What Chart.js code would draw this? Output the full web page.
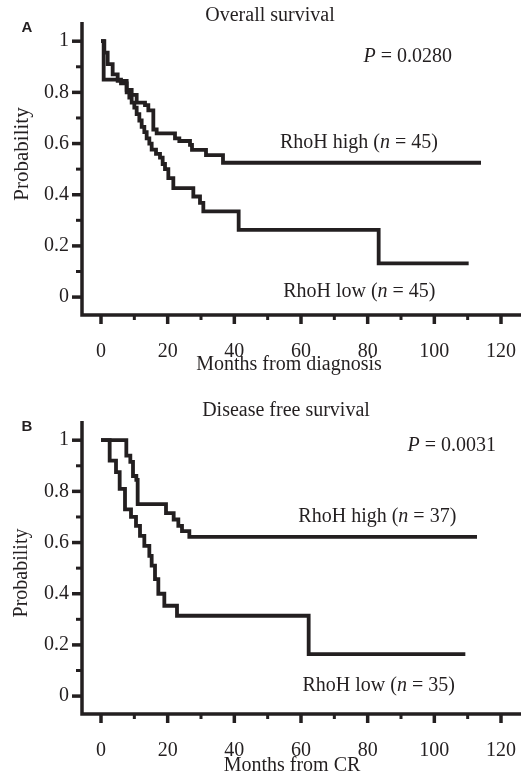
<!DOCTYPE html>
<html>
<head>
<meta charset="utf-8">
<script src="https://cdn.jsdelivr.net/npm/chart.js@4.4.1/dist/chart.umd.min.js"></script>
<style>
  html, body { margin: 0; padding: 0; background: #fff; overflow: hidden; }
  #wrap { position: relative; width: 527px; height: 776px; overflow: hidden; }
  .panel { position: absolute; left: 0; width: 527px; height: 399px; }
</style>
</head>
<body>
<div id="wrap">
  <div class="panel" style="top:0"><canvas id="chartA" width="527" height="399"></canvas></div>
  <div class="panel" style="top:399px"><canvas id="chartB" width="527" height="399"></canvas></div>
</div>
<script>
// A: overall survival (months from diagnosis)
const osHighMonths = [0, 1, 2, 3.5, 5, 7.7, 9.2, 10.7, 13.2, 14.2, 15.7, 16.7, 22.2, 23.5, 26.7, 27.3, 31.5, 36.6, 114];
const osHighProb   = [1, 0.955, 0.91, 0.87, 0.845, 0.81, 0.79, 0.76, 0.75, 0.73, 0.655, 0.64, 0.62, 0.61, 0.595, 0.575, 0.555, 0.525, 0.525];
const osLowMonths  = [0, 0.8, 6, 7.7, 8.5, 9.2, 10, 10.7, 11.5, 12.2, 13, 13.7, 14.5, 15.2, 16.5, 17.7, 18.5, 19.2, 20.2, 21.7, 27.7, 29.7, 30.7, 41.3, 83.3, 110.3];
const osLowProb    = [1, 0.85, 0.835, 0.80, 0.78, 0.76, 0.74, 0.715, 0.69, 0.665, 0.645, 0.62, 0.60, 0.576, 0.56, 0.545, 0.52, 0.50, 0.465, 0.426, 0.393, 0.368, 0.335, 0.263, 0.132, 0.132];

// B: disease free survival (months from CR)
const dfsHighMonths = [0, 7.6, 8.8, 9.6, 10.6, 11, 19.5, 21.8, 23.2, 24.3, 26.5, 112.8];
const dfsHighProb   = [1, 0.94, 0.915, 0.86, 0.845, 0.75, 0.715, 0.69, 0.665, 0.645, 0.622, 0.622];
const dfsLowMonths  = [0, 2.6, 4.5, 5.6, 7.2, 9, 10.5, 11.7, 13, 14.5, 15.2, 16.2, 17.2, 19, 22.8, 62.3, 109.3];
const dfsLowProb    = [1, 0.92, 0.875, 0.81, 0.73, 0.70, 0.665, 0.626, 0.587, 0.548, 0.51, 0.457, 0.40, 0.353, 0.314, 0.164, 0.164];

const xTicks = [0, 20, 40, 60, 80, 100, 120];
const xMinorTicks = [10, 30, 50, 70, 90, 110];
const yTicks = [0, 0.2, 0.4, 0.6, 0.8, 1];
const yTickLabels = ['0', '0.2', '0.4', '0.6', '0.8', '1'];
const yMinorTicks = [0.1, 0.3, 0.5, 0.7, 0.9];

const ink = '#231f20';
const serif = '"Liberation Serif", "Times New Roman", serif';

Chart.defaults.font.family = serif;
Chart.defaults.color = ink;

function toPoints(months, prob) {
    return months.map((m, i) => ({ x: m, y: prob[i] }));
}

function drawParts(ctx, parts, cx, cy, size) {
    const fonts = parts.map(p => (p[1] ? 'italic ' : '') + size + 'px ' + serif);
    let total = 0;
    const widths = parts.map((p, i) => {
        ctx.font = fonts[i];
        const w = ctx.measureText(p[0]).width;
        total += w;
        return w;
    });
    let x = cx - total / 2;
    ctx.textAlign = 'left';
    ctx.textBaseline = 'middle';
    parts.forEach((p, i) => {
        ctx.font = fonts[i];
        ctx.fillText(p[0], x, cy);
        x += widths[i];
    });
}

// axis lines + major/minor tick marks
const axesPlugin = {
    id: 'kmAxes',
    afterDraw(chart) {
        const { ctx, chartArea: a, scales: { x, y } } = chart;
        ctx.save();
        ctx.strokeStyle = ink;
        ctx.lineCap = 'butt';
        ctx.lineWidth = 3.5;
        ctx.beginPath();
        ctx.moveTo(a.left, a.top);
        ctx.lineTo(a.left, a.bottom + 1.75);
        ctx.moveTo(a.left - 1.75, a.bottom);
        ctx.lineTo(a.right, a.bottom);
        ctx.stroke();

        const mark = (x1, y1, x2, y2, w) => {
            ctx.lineWidth = w;
            ctx.beginPath();
            ctx.moveTo(x1, y1);
            ctx.lineTo(x2, y2);
            ctx.stroke();
        };
        yTicks.forEach(v => { const p = y.getPixelForValue(v); mark(a.left - 10, p, a.left, p, 3.5); });
        yMinorTicks.forEach(v => { const p = y.getPixelForValue(v); mark(a.left - 6, p, a.left, p, 3); });
        xTicks.forEach(v => { const p = x.getPixelForValue(v); mark(p, a.bottom, p, a.bottom + 9, 3.5); });
        xMinorTicks.forEach(v => { const p = x.getPixelForValue(v); mark(p, a.bottom, p, a.bottom + 5, 3); });
        ctx.restore();
    }
};

// titles, panel letter and the text notes inside the plot
const textPlugin = {
    id: 'kmText',
    afterDraw(chart, args, opts) {
        const { ctx, scales: { x, y } } = chart;
        ctx.save();
        ctx.fillStyle = ink;

        ctx.font = 'bold 15px "Liberation Sans", Arial, sans-serif';
        ctx.textAlign = 'center';
        ctx.textBaseline = 'middle';
        ctx.fillText(opts.letter, 27, 28);

        ctx.font = '20px ' + serif;
        ctx.fillText(opts.title, opts.titlePos[0], opts.titlePos[1]);
        ctx.fillText(opts.xTitle, opts.xTitlePos[0], opts.xTitlePos[1]);

        ctx.save();
        ctx.translate(opts.yTitlePos[0], opts.yTitlePos[1]);
        ctx.rotate(-Math.PI / 2);
        ctx.font = opts.yTitleSize + 'px ' + serif;
        ctx.fillText('Probability', 0, 0);
        ctx.restore();

        opts.notes.forEach(n => {
            drawParts(ctx, n.parts, x.getPixelForValue(n.at[0]), y.getPixelForValue(n.at[1]), 20);
        });
        ctx.restore();
    }
};

function makeChart(id, high, low, text) {
    const line = data => ({
        data: data,
        borderColor: ink,
        borderWidth: 3.8,
        pointRadius: 0,
        stepped: true,
        fill: false
    });
    return new Chart(document.getElementById(id), {
        type: 'line',
        data: { datasets: [line(high), line(low)] },
        options: {
            responsive: false,
            animation: false,
            events: [],
            layout: { padding: { top: 22, right: 6, bottom: 0, left: 0 } },
            plugins: {
                legend: { display: false },
                tooltip: { enabled: false },
                kmText: text
            },
            scales: {
                x: {
                    type: 'linear',
                    min: -5.7,
                    max: 126,
                    grid: { display: false, drawTicks: false },
                    border: { display: false },
                    afterBuildTicks: s => { s.ticks = xTicks.map(v => ({ value: v })); },
                    afterFit: s => { s.height = 84; s.paddingLeft = 0; s.paddingRight = 0; },
                    ticks: { padding: 25, maxRotation: 0, autoSkip: false, font: { size: 20 }, callback: v => String(v) }
                },
                y: {
                    min: -0.07,
                    max: 1.075,
                    grid: { display: false, drawTicks: false },
                    border: { display: false },
                    afterBuildTicks: s => { s.ticks = yTicks.map(v => ({ value: v })); },
                    afterFit: s => { s.width = 82; s.paddingTop = 0; s.paddingBottom = 0; },
                    ticks: { padding: 13, font: { size: 20 }, callback: (v, i) => yTickLabels[i] }
                }
            }
        },
        plugins: [axesPlugin, textPlugin]
    });
}

makeChart('chartA', toPoints(osHighMonths, osHighProb), toPoints(osLowMonths, osLowProb), {
    letter: 'A',
    title: 'Overall survival',
    titlePos: [270, 16],
    xTitle: 'Months from diagnosis',
    xTitlePos: [289, 365],
    yTitlePos: [22, 154],
    yTitleSize: 21,
    notes: [
        { parts: [['P', true], [' = 0.0280', false]], at: [92, 0.941] },
        { parts: [['RhoH high (', false], ['n', true], [' = 45)', false]], at: [77.4, 0.604] },
        { parts: [['RhoH low (', false], ['n', true], [' = 45)', false]], at: [77.5, 0.02] }
    ]
});

makeChart('chartB', toPoints(dfsHighMonths, dfsHighProb), toPoints(dfsLowMonths, dfsLowProb), {
    letter: 'B',
    title: 'Disease free survival',
    titlePos: [286, 12],
    xTitle: 'Months from CR',
    xTitlePos: [292, 366.5],
    yTitlePos: [22, 174],
    yTitleSize: 20,
    notes: [
        { parts: [['P', true], [' = 0.0031', false]], at: [105.2, 0.977] },
        { parts: [['RhoH high (', false], ['n', true], [' = 37)', false]], at: [82.9, 0.70] },
        { parts: [['RhoH low (', false], ['n', true], [' = 35)', false]], at: [83.3, 0.04] }
    ]
});
</script>
</body>
</html>
